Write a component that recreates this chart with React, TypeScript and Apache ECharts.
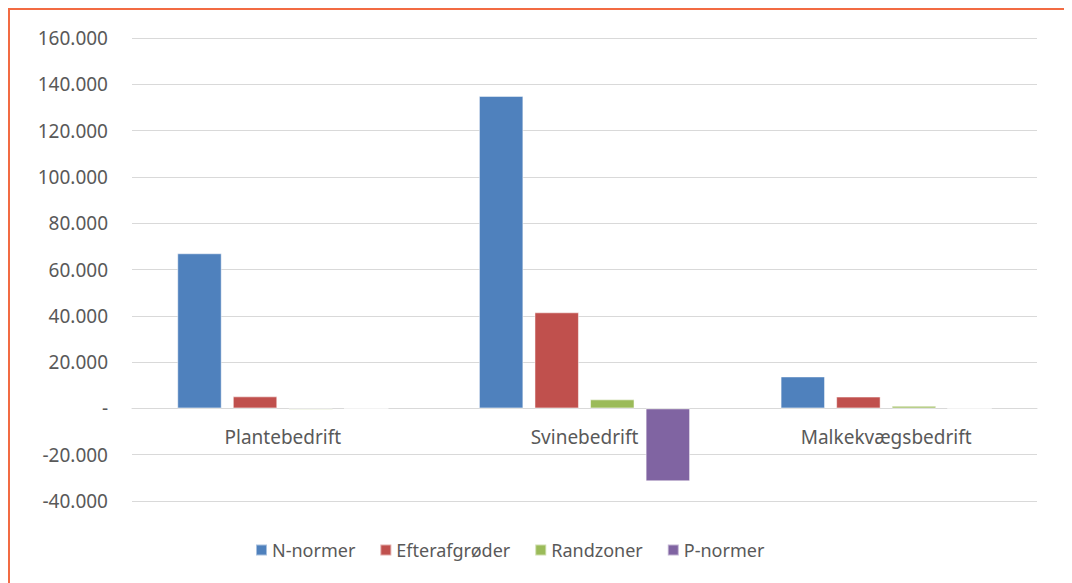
import React, { useEffect, useRef } from "react";
import * as echarts from "echarts";

const categories = ["Plantebedrift", "Svinebedrift", "Malkekvægsbedrift"];
const seriesNames = ["N-normer", "Efterafgrøder", "Randzoner", "P-normer"];
const nNormer = [67000, 135000, 13800];
const efterafgroeder = [5200, 41500, 5100];
const randzoner = [-600, 3900, 1100];
const pNormer = [0, -31500, 0];
const colors = ["#4F81BD", "#C0504D", "#9BBB59", "#8064A2"];

const fmt = (v: number) => {
  if (v === 0) return "-";
  const s = Math.abs(v).toString().replace(/\B(?=(\d{3})+(?!\d))/g, ".");
  return (v < 0 ? "-" : "") + s;
};

const GRID_TOP = 28;
const GRID_BOTTOM = 82;
const CHART_H = 573;
const Y_MIN = -40000;
const Y_MAX = 160000;

export default function App() {
  const ref = useRef<HTMLDivElement>(null);
  useEffect(() => {
    document.documentElement.style.overflow = "hidden";
    document.body.style.overflow = "hidden";
    const chart = echarts.init(ref.current!, null, { renderer: "svg" });
    const font = "'Noto Sans', 'Open Sans', sans-serif";
    const data = [nNormer, efterafgroeder, randzoner, pNormer];
    const gridH = CHART_H - GRID_TOP - GRID_BOTTOM;
    const belowZero = (gridH * (0 - Y_MIN)) / (Y_MAX - Y_MIN);
    chart.setOption({
      animation: false,
      textStyle: { fontFamily: font },
      grid: { left: 122, right: 27, top: GRID_TOP, bottom: GRID_BOTTOM },
      legend: {
        data: seriesNames,
        top: 526,
        left: 240,
        icon: "rect",
        itemWidth: 11,
        itemHeight: 11,
        itemGap: 24,
        textStyle: { fontSize: 18, color: "#595959", fontFamily: font },
      },
      xAxis: {
        type: "category",
        data: categories,
        offset: -belowZero,
        axisLine: { onZero: false, lineStyle: { color: "#D9D9D9", width: 1 } },
        axisTick: { show: false },
        axisLabel: { fontSize: 19, color: "#595959", margin: 19 },
      },
      yAxis: {
        type: "value",
        min: Y_MIN,
        max: Y_MAX,
        interval: 20000,
        axisLine: { show: false },
        axisTick: { show: false },
        splitLine: { lineStyle: { color: "#D9D9D9", width: 1 } },
        axisLabel: { fontSize: 19, color: "#595959", margin: 24, formatter: fmt },
      },
      series: seriesNames.map((name, i) => ({
        name,
        type: "bar",
        data: data[i],
        barGap: "25%",
        barCategoryGap: "30%",
        itemStyle: { color: colors[i], borderColor: "rgba(255,255,255,0.5)", borderWidth: 1 },
      })),
    });
    return () => chart.dispose();
  }, []);
  return (
    <div
      style={{
        width: 1058,
        height: 575,
        boxSizing: "border-box",
        border: "2px solid #F26B43",
        borderBottom: "none",
        background: "#fff",
      }}
    >
      <div ref={ref} style={{ width: 1054, height: CHART_H }} />
    </div>
  );
}
